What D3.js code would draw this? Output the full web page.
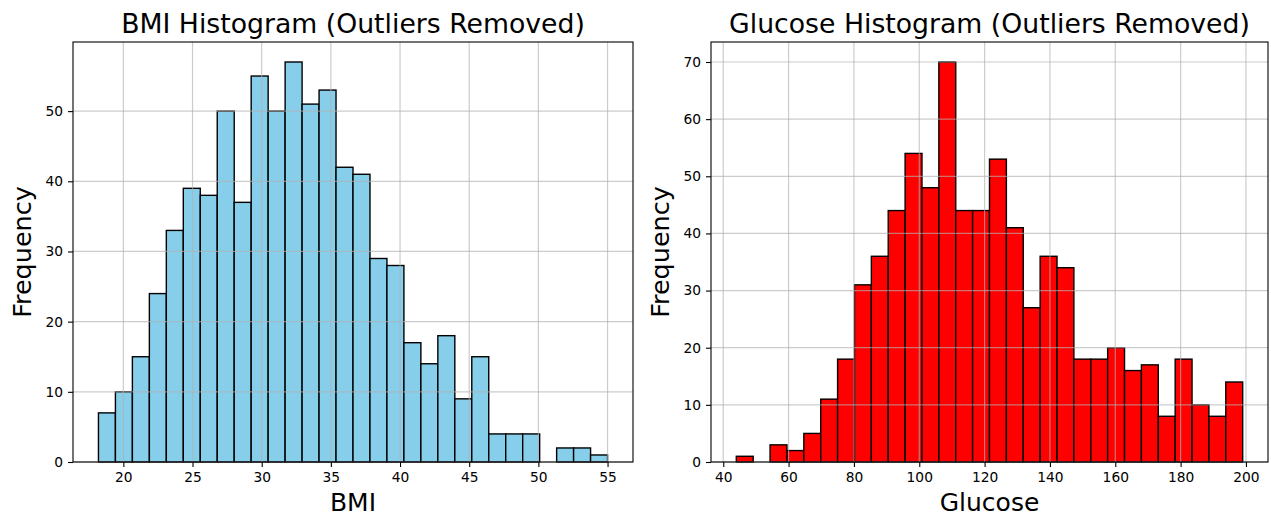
<!DOCTYPE html>
<html>
<head>
<meta charset="utf-8">
<script src="https://cdn.jsdelivr.net/npm/d3@7"></script>
<style>
  html, body { margin: 0; padding: 0; background: #fff; }
  svg { display: block; font-family: "DejaVu Sans", sans-serif; }
</style>
</head>
<body>
<svg id="chart" width="1271" height="517"></svg>
<script>
// ---- Data ----
const bmiRange = [18.2, 55.0];
const bmiCounts = [7, 10, 15, 24, 33, 39, 38, 50, 37, 55, 50, 57, 51, 53, 42, 41, 29, 28, 17, 14, 18, 9, 15, 4, 4, 4, 0, 2, 2, 1];
const bmiXTicks = [20, 25, 30, 35, 40, 45, 50, 55];
const bmiYTicks = [0, 10, 20, 30, 40, 50];

const glucoseRange = [44, 199];
const glucoseCounts = [1, 0, 3, 2, 5, 11, 18, 31, 36, 44, 54, 48, 70, 44, 44, 53, 41, 27, 36, 34, 18, 18, 20, 16, 17, 8, 18, 10, 8, 14];
const glucoseXTicks = [40, 60, 80, 100, 120, 140, 160, 180, 200];
const glucoseYTicks = [0, 10, 20, 30, 40, 50, 60, 70];

const svg = d3.select("#chart");

function drawHist(cfg) {
  const { left, right, top, bottom, range, counts, xTicks, yTicks, fill, title, xlabel, ylabelX } = cfg;
  const n = counts.length;
  const w = (range[1] - range[0]) / n;
  const bins = counts.map((c, i) => ({ x0: range[0] + i * w, x1: range[0] + (i + 1) * w, c }));
  const span = range[1] - range[0];
  const x = d3.scaleLinear().domain([range[0] - 0.05 * span, range[1] + 0.05 * span]).range([left, right]);
  const ymax = d3.max(counts) * 1.05;
  const y = d3.scaleLinear().domain([0, ymax]).range([bottom, top]);

  const g = svg.append("g");

  // bars
  g.append("g").selectAll("rect").data(bins).join("rect")
    .attr("x", d => x(d.x0))
    .attr("width", d => x(d.x1) - x(d.x0))
    .attr("y", d => y(d.c))
    .attr("height", d => y(0) - y(d.c))
    .attr("fill", fill)
    .attr("stroke", "#000")
    .attr("stroke-width", 1.4);

  // grid (on top of bars)
  const grid = g.append("g").attr("stroke", "#b0b0b0").attr("stroke-opacity", 0.65).attr("stroke-width", 1.2);
  grid.selectAll("line.gx").data(xTicks).join("line")
    .attr("x1", d => x(d)).attr("x2", d => x(d)).attr("y1", top).attr("y2", bottom);
  grid.selectAll("line.gy").data(yTicks).join("line")
    .attr("y1", d => y(d)).attr("y2", d => y(d)).attr("x1", left).attr("x2", right);

  // axes
  const xAxis = d3.axisBottom(x).tickValues(xTicks).tickSize(5).tickPadding(5).tickFormat(d3.format("d"));
  const yAxis = d3.axisLeft(y).tickValues(yTicks).tickSize(5).tickPadding(5).tickFormat(d3.format("d"));
  const gx = g.append("g").attr("transform", `translate(0,${bottom})`).call(xAxis);
  const gy = g.append("g").attr("transform", `translate(${left},0)`).call(yAxis);
  [gx, gy].forEach(a => {
    a.select(".domain").remove();
    a.selectAll(".tick line").attr("stroke", "#000").attr("stroke-width", 1.1);
    a.selectAll(".tick text").attr("fill", "#000").style("font-size", "13.8px").style("font-family", "DejaVu Sans, sans-serif");
  });

  // frame
  g.append("rect").attr("x", left).attr("y", top).attr("width", right - left).attr("height", bottom - top)
    .attr("fill", "none").attr("stroke", "#000").attr("stroke-width", 1.1);

  // titles
  g.append("text").attr("x", (left + right) / 2).attr("y", 33).attr("text-anchor", "middle")
    .style("font-size", "26.7px").text(title);
  g.append("text").attr("x", (left + right) / 2).attr("y", 511).attr("text-anchor", "middle")
    .style("font-size", "25px").text(xlabel);
  g.append("text").attr("transform", `translate(${ylabelX},${(top + bottom) / 2}) rotate(-90)`)
    .attr("text-anchor", "middle").style("font-size", "25.5px").text("Frequency");
}

drawHist({
  left: 73, right: 633, top: 42, bottom: 462,
  range: bmiRange, counts: bmiCounts, xTicks: bmiXTicks, yTicks: bmiYTicks,
  fill: "#87ceeb", title: "BMI Histogram (Outliers Removed)", xlabel: "BMI", ylabelX: 31
});
drawHist({
  left: 711, right: 1268, top: 42, bottom: 462,
  range: glucoseRange, counts: glucoseCounts, xTicks: glucoseXTicks, yTicks: glucoseYTicks,
  fill: "#ff0000", title: "Glucose Histogram (Outliers Removed)", xlabel: "Glucose", ylabelX: 669
});
</script>
</body>
</html>
